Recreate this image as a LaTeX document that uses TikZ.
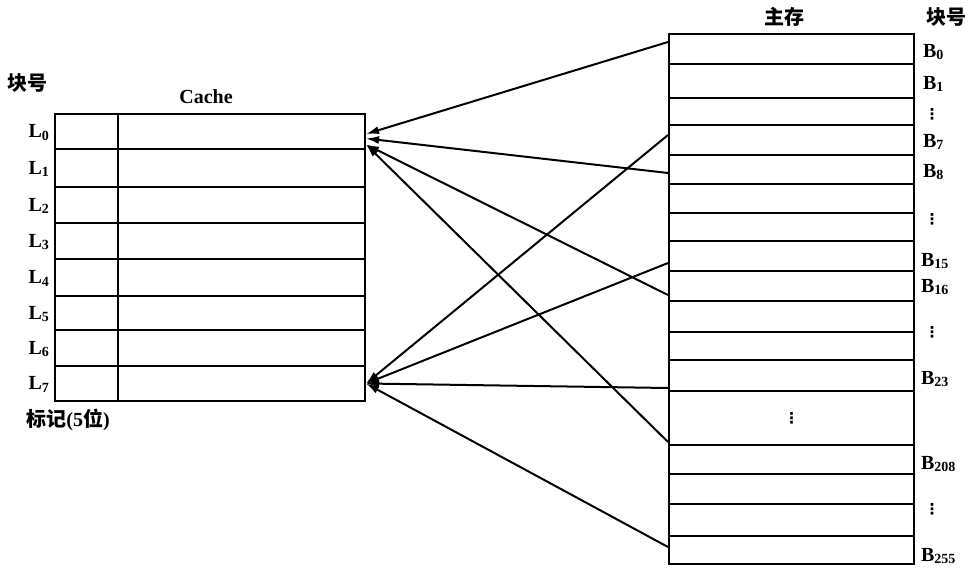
\documentclass[tikz,border=0pt]{standalone}
\usepackage{fontspec}
\setmainfont{Liberation Serif}
\newfontfamily\cjk{Noto Sans CJK SC}
\newfontfamily\djv{DejaVu Sans}
\usetikzlibrary{arrows.meta}
\newcommand\sbx[1]{\raisebox{-0.3ex}{\fontsize{14}{14}\selectfont #1}}
\begin{document}
\begin{tikzpicture}[x=1pt,y=-1pt,line width=2pt,
  cell/.style={draw,rectangle,inner sep=0pt,anchor=north west},
  lbl/.style={font=\fontsize{20}{22}\selectfont\bfseries,inner sep=0pt},
  dotsnode/.style={font=\djv\fontsize{15}{15}\selectfont\bfseries,inner sep=0pt},
  conn/.style={-{Latex[length=13pt,width=8pt]},line width=2pt}]
\useasboundingbox (0,0) rectangle (974,577);
% cache rows
\foreach \i/\t/\h in {0/113/35,1/148/38,2/186/36,3/222/36,4/258/37,5/295/34,6/329/36,7/365/35}
  \node[cell,minimum width=310pt,minimum height=\h pt] (c\i) at (54,\t) {};
\draw ([xshift=64pt]c0.north west) -- ([xshift=64pt]c7.south west);
% cache labels
\foreach \i in {0,...,7}
  \node[lbl,anchor=east] (l\i) at ([xshift=-4pt,yshift=-1pt]c\i.west) {L\sbx{\i}};
\node[lbl] (kh1) at (28,83) {\cjk\bfseries 块号};
\node[lbl] (cachet) at (206,97) {Cache};
\node[lbl] (tag) at (68,420) {{\cjk\bfseries 标记}(5{\cjk\bfseries 位})};
% main memory rows
\foreach \i/\t/\h in {0/33/30,1/63/34,2/97/27,3/124/30,4/154/29,5/183/29,6/212/28,7/240/30,8/270/30,9/300/31,10/331/28,11/359/31,12/390/54,13/444/29,14/473/30,15/503/32,16/535/28}
  \node[cell,minimum width=245pt,minimum height=\h pt] (m\i) at (668,\t) {};
\node[lbl] (zc) at (784,17) {\cjk\bfseries 主存};
\node[lbl] (kh2) at (946,17) {\cjk\bfseries 块号};
% block labels
\node[lbl,anchor=west] (b0) at (922,52) {B\sbx{0}};
\node[lbl,anchor=west] (b1) at (922,84) {B\sbx{1}};
\node[dotsnode] (d1) at (932,114) {⋮};
\node[lbl,anchor=west] (b7) at (922,142) {B\sbx{7}};
\node[lbl,anchor=west] (b8) at (922,172) {B\sbx{8}};
\node[dotsnode] (d2) at (932,219) {⋮};
\node[lbl,anchor=west] (b15) at (920,261) {B\sbx{15}};
\node[lbl,anchor=west] (b16) at (920,287) {B\sbx{16}};
\node[dotsnode] (d3) at (932,332) {⋮};
\node[lbl,anchor=west] (b23) at (920,379) {B\sbx{23}};
\node[dotsnode] (d4) at (m12.center) {⋮};
\node[lbl,anchor=west] (b208) at (920,464) {B\sbx{208}};
\node[dotsnode] (d5) at (932,509) {⋮};
\node[lbl,anchor=west] (b255) at (920,556) {B\sbx{255}};
% connectors to L0
\draw[conn] ([yshift=-9pt]m0.north west) -- ([yshift=-2.5pt]c0.east);
\draw[conn] ([yshift=-3.5pt]m4.west) -- ([yshift=-7pt]c0.east);
\draw[conn] ([yshift=7pt]m8.south west) -- ([yshift=-13pt]c0.east);
\draw[conn] ([yshift=2pt]m13.north west) -- ([yshift=-13pt]c0.east);
% connectors to L7
\draw[conn] ([yshift=-11pt]m3.north west) -- (c7.east);
\draw[conn] ([yshift=-23pt]m7.north west) -- (c7.east);
\draw[conn] ([yshift=4pt]m11.south west) -- (c7.east);
\draw[conn] ([yshift=-12pt]m16.north west) -- (c7.east);
\end{tikzpicture}
\end{document}
